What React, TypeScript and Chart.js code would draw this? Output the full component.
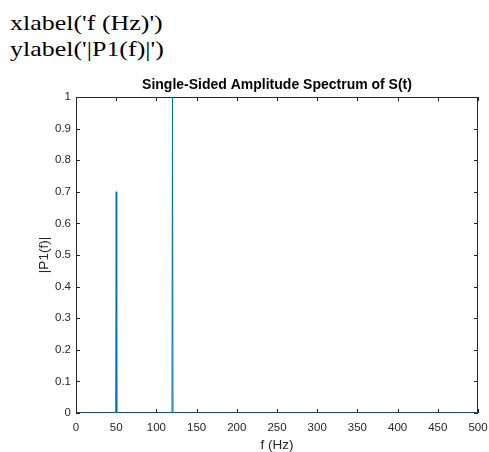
import React, { useEffect, useRef } from "react";
import { Chart, registerables } from "chart.js";

Chart.register(...registerables);

// Single-sided amplitude spectrum: zero everywhere except the two tones
const freqs = [0, 49.333, 50, 50.667, 119.333, 120, 120.667, 500];
const amps = [0, 0, 0.7, 0, 0, 1, 0, 0];

const xTicks = [0, 50, 100, 150, 200, 250, 300, 350, 400, 450, 500];
const yTicks = [0, 0.1, 0.2, 0.3, 0.4, 0.5, 0.6, 0.7, 0.8, 0.9, 1];

const codeLines = ["xlabel('f (Hz)')", "ylabel('|P1(f)|')"];

const AXIS_COLOR = "#262626";
const LINE_COLOR = "#0072BD";
const SANS = "'Liberation Sans', Arial, Helvetica, sans-serif";

// Box around the axes with inward tick marks on all four sides
const boxPlugin = {
  id: "matlabBox",
  beforeDatasetsDraw(chart: any) {
    const { ctx, chartArea, scales } = chart;
    const { left, right, top, bottom } = chartArea;
    const len = 4;
    ctx.save();
    ctx.strokeStyle = AXIS_COLOR;
    ctx.lineWidth = 1;
    ctx.beginPath();
    ctx.rect(left + 0.5, top + 0.5, right - left - 1, bottom - top - 1);
    for (const v of xTicks) {
      const x = Math.round(scales.x.getPixelForValue(v)) + 0.5;
      ctx.moveTo(x, bottom);
      ctx.lineTo(x, bottom - len);
      ctx.moveTo(x, top);
      ctx.lineTo(x, top + len);
    }
    for (const v of yTicks) {
      const y = Math.round(scales.y.getPixelForValue(v)) + 0.5;
      ctx.moveTo(left, y);
      ctx.lineTo(left + len, y);
      ctx.moveTo(right, y);
      ctx.lineTo(right - len, y);
    }
    ctx.stroke();
    ctx.restore();
  },
};

export default function App() {
  const canvasRef = useRef<HTMLCanvasElement | null>(null);

  useEffect(() => {
    document.body.style.margin = "0";
    document.body.style.overflow = "hidden";
    const canvas = canvasRef.current;
    if (!canvas) return;
    const chart = new Chart(canvas, {
      type: "line",
      data: {
        datasets: [
          {
            data: freqs.map((f, i) => ({ x: f, y: amps[i] })),
            borderColor: LINE_COLOR,
            borderWidth: 1,
            pointRadius: 0,
            tension: 0,
            fill: false,
          },
        ],
      },
      options: {
        responsive: false,
        animation: false,
        events: [],
        layout: { padding: { top: 0, left: 0, right: 11, bottom: 0 } },
        plugins: {
          legend: { display: false },
          tooltip: { enabled: false },
          title: {
            display: true,
            text: "Single-Sided Amplitude Spectrum of S(t)",
            fullSize: false,
            color: "#000000",
            font: { family: SANS, size: 14, weight: "bold" },
            padding: { top: 76.6, bottom: 3.6 },
          },
        },
        scales: {
          x: {
            type: "linear",
            min: 0,
            max: 500,
            afterBuildTicks: (s: any) => {
              s.ticks = xTicks.map((v) => ({ value: v }));
            },
            afterFit: (s: any) => {
              s.height = 39;
              s.paddingLeft = 0;
              s.paddingRight = 0;
            },
            grid: { display: false, drawTicks: false },
            border: { display: false },
            ticks: {
              color: AXIS_COLOR,
              font: { family: SANS, size: 11.5 },
              padding: 8,
              maxRotation: 0,
              autoSkip: false,
              callback: (v: any) => String(v),
            },
            title: {
              display: true,
              text: "f (Hz)",
              color: AXIS_COLOR,
              font: { family: SANS, size: 13.5 },
              padding: { top: 0, bottom: -1 },
            },
          },
          y: {
            type: "linear",
            min: 0,
            max: 1,
            afterBuildTicks: (s: any) => {
              s.ticks = yTicks.map((v) => ({ value: v }));
            },
            afterFit: (s: any) => {
              s.width = 76;
              s.paddingTop = 0;
              s.paddingBottom = 0;
            },
            grid: { display: false, drawTicks: false },
            border: { display: false },
            ticks: {
              color: AXIS_COLOR,
              font: { family: SANS, size: 11.5 },
              padding: 5,
              autoSkip: false,
              callback: (v: any) => String(v),
            },
            title: {
              display: true,
              text: "|P1(f)|",
              color: AXIS_COLOR,
              font: { family: SANS, size: 13.5 },
              padding: { top: 36, bottom: 0 },
            },
          },
        },
      },
      plugins: [boxPlugin],
    });
    return () => chart.destroy();
  }, []);

  return (
    <div style={{ position: "relative", width: 489, height: 452, overflow: "hidden" }}>
      <div
        style={{
          position: "absolute",
          left: 9.5,
          top: 9.5,
          fontFamily: "'Liberation Serif', 'Times New Roman', serif",
          fontSize: 22,
          lineHeight: "26px",
          color: "#000",
          transform: "scaleX(1.18)",
          transformOrigin: "left top",
          whiteSpace: "nowrap",
        }}
      >
        {codeLines.map((t) => (
          <div key={t}>{t}</div>
        ))}
      </div>
      <canvas
        ref={canvasRef}
        width={489}
        height={452}
        style={{ position: "absolute", left: 0, top: 0 }}
      />
    </div>
  );
}
